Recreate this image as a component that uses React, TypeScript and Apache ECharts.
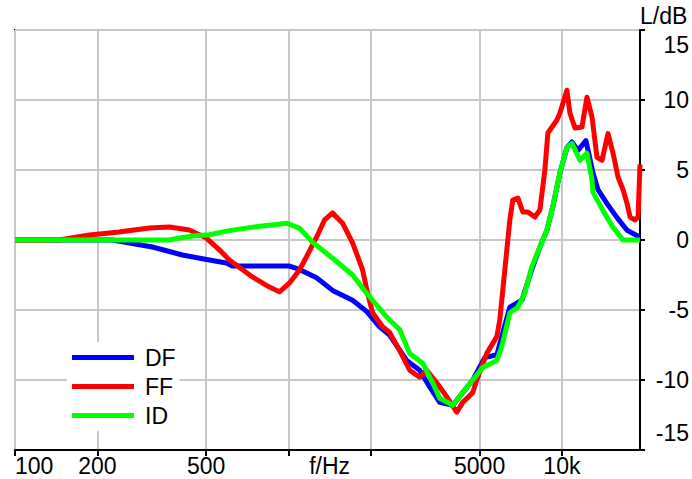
import React, { useEffect, useRef } from 'react';
import * as echarts from 'echarts';

// Frequency (Hz) and level (dB)
const dfFreq = [100, 227, 318, 409, 514, 593, 624, 874, 1009, 1097, 1267, 1450, 1716, 1931, 2154, 2344, 2706, 3019, 3285, 3574, 3988, 4339, 4721, 5223, 5780, 6450, 7139, 7763, 8308, 8812, 9268, 9833, 10430, 10880, 11445, 12243, 12990, 13550, 14619, 15906, 17308, 19300];
const dfLevel = [0, 0, -0.5, -1.07, -1.43, -1.64, -1.86, -1.86, -1.86, -2.1, -2.7, -3.6, -4.3, -5.1, -6.2, -6.8, -8.6, -9.3, -10.5, -11.6, -11.8, -10.9, -10.0, -8.4, -8.2, -4.8, -4.3, -2.1, -0.5, 0.7, 2.4, 4.8, 6.6, 7.0, 6.4, 7.1, 4.8, 3.6, 2.6, 1.6, 0.7, 0.2];

const ffFreq = [100, 145, 187, 240, 310, 367, 434, 501, 559, 608, 738, 852, 927, 1009, 1097, 1164, 1267, 1355, 1450, 1577, 1716, 1867, 1947, 2031, 2210, 2344, 2551, 2775, 3019, 3202, 3485, 3792, 4125, 4339, 4721, 4882, 5312, 5780, 5928, 6450, 6615, 6903, 7195, 7505, 7962, 8308, 8664, 8886, 9587, 9833, 10430, 10698, 11160, 11838, 12347, 12880, 13436, 14017, 14742, 15378, 16040, 16730, 17308, 17752, 18517, 18992, 19300];
const ffLevel = [0, 0, 0.36, 0.57, 0.86, 0.93, 0.71, 0.14, -0.7, -1.43, -2.64, -3.36, -3.7, -3.07, -2.14, -1.2, 0.2, 1.43, 1.93, 1.2, -0.2, -2.14, -3.8, -5.2, -6.2, -6.6, -7.9, -9.3, -9.8, -9.3, -10.2, -11.2, -12.3, -11.6, -10.9, -10.0, -8.1, -6.9, -5.7, 1.43, 2.86, 3.0, 2.0, 2.0, 1.64, 2.14, 5.0, 7.64, 8.57, 9.07, 10.7, 9.07, 8.0, 8.07, 10.2, 8.8, 5.9, 5.7, 7.6, 6.2, 4.5, 3.6, 2.6, 1.64, 1.43, 1.64, 5.4];

const idFreq = [100, 367, 400, 453, 514, 600, 700, 800, 900, 983, 1097, 1224, 1450, 1716, 1931, 2286, 2551, 2775, 3097, 3370, 3574, 3988, 4339, 4721, 5136, 5780, 6029, 6450, 6903, 7318, 7763, 8308, 8812, 9268, 9833, 10430, 10880, 11640, 12347, 12880, 12990, 14135, 15378, 16730, 19300];
const idLevel = [0, 0, 0.15, 0.3, 0.38, 0.65, 0.85, 1.0, 1.1, 1.2, 0.85, -0.15, -1.3, -2.5, -3.8, -5.5, -6.4, -8.1, -8.8, -10.2, -11.3, -11.8, -10.9, -10.0, -9.1, -8.6, -7.6, -5.2, -4.8, -3.8, -1.9, -0.5, 0.7, 2.4, 4.8, 6.6, 6.9, 5.7, 6.2, 4.3, 3.4, 2.1, 0.9, 0, 0];

const seriesNames = ['DF', 'FF', 'ID'];
const seriesColors = ['#0000ff', '#ff0000', '#00ff00'];

const xTickValues = [100, 200, 500, 1000, 2000, 5000, 10000];
const xLabelValues = [100, 200, 500, 1414.2, 5000, 10000];
const xLabelTexts = ['100', '200', '500', 'f/Hz', '5000', '10k'];

const FONT = '"Liberation Sans", Arial, sans-serif';

function pairs(f: number[], l: number[]) {
  return f.map((v, i) => [v, l[i]]);
}

export default function App() {
  const ref = useRef<HTMLDivElement>(null);
  useEffect(() => {
    if (!ref.current) return;
    const chart = echarts.init(ref.current, null, { renderer: 'svg' });
    const datasets = [pairs(dfFreq, dfLevel), pairs(ffFreq, ffLevel), pairs(idFreq, idLevel)];
    chart.setOption({
      animation: false,
      backgroundColor: '#fff',
      textStyle: { fontFamily: FONT },
      grid: {
        left: 15, right: 52, top: 30, bottom: 29,
        show: true, borderColor: '#000', borderWidth: 2, backgroundColor: 'transparent',
      },
      legend: {
        data: seriesNames,
        orient: 'vertical',
        left: 67,
        top: 342,
        icon: 'rect',
        itemWidth: 62,
        itemHeight: 5,
        itemGap: 6,
        padding: [4, 4, 4, 5],
        backgroundColor: '#fff',
        textStyle: { fontSize: 23, fontFamily: FONT, color: '#000', lineHeight: 23, padding: [0, 0, 0, 6] },
      },
      xAxis: {
        type: 'log',
        logBase: 10,
        min: 100,
        max: 19300,
        axisLine: { show: true, onZero: false, lineStyle: { color: '#000', width: 2 } },
        axisTick: { show: true, inside: false, length: 6, customValues: xTickValues, lineStyle: { color: '#000', width: 2 } },
        splitLine: { show: true, lineStyle: { color: '#c8c8c8', width: 2 } },
        minorTick: { show: false },
        axisLabel: {
          customValues: xLabelValues,
          fontSize: 23,
          fontFamily: FONT,
          color: '#000',
          margin: 4,
          alignMinLabel: 'left',
          formatter: (v: number) => {
            let best = 0;
            xLabelValues.forEach((lv, i) => {
              if (Math.abs(Math.log(lv) - Math.log(v)) < Math.abs(Math.log(xLabelValues[best]) - Math.log(v))) best = i;
            });
            return xLabelTexts[best];
          },
        },
      },
      yAxis: {
        type: 'value',
        position: 'right',
        min: -15,
        max: 15,
        interval: 5,
        name: 'L/dB',
        nameLocation: 'end',
        nameGap: 3,
        nameTextStyle: { fontSize: 23, fontFamily: FONT, color: '#000', align: 'left', verticalAlign: 'bottom' },
        axisLine: { show: true, onZero: false, lineStyle: { color: '#000', width: 2 } },
        axisTick: { show: true, inside: false, length: 5, lineStyle: { color: '#000', width: 2 } },
        splitLine: { show: true, lineStyle: { color: '#c8c8c8', width: 2 } },
        axisLabel: {
          fontSize: 23,
          fontFamily: FONT,
          color: '#000',
          align: 'right',
          margin: 49,
          formatter: (v: number) => {
            if (v === 15) return '{t|15}';
            if (v === -15) return '{b|-15}';
            return String(v);
          },
          rich: {
            t: { fontSize: 23, fontFamily: FONT, color: '#000', padding: [30, 0, 0, 0] },
            b: { fontSize: 23, fontFamily: FONT, color: '#000', padding: [0, 0, 34, 0] },
          },
        },
      },
      series: seriesNames.map((name, i) => ({
        name,
        type: 'line',
        data: datasets[i],
        showSymbol: false,
        symbol: 'none',
        lineStyle: { color: seriesColors[i], width: 5, join: 'round' },
        itemStyle: { color: seriesColors[i] },
        z: 2 + i,
      })),
    });
    return () => chart.dispose();
  }, []);
  return <div ref={ref} style={{ position: 'fixed', left: 0, top: 0, width: 692, height: 479 }} />;
}
